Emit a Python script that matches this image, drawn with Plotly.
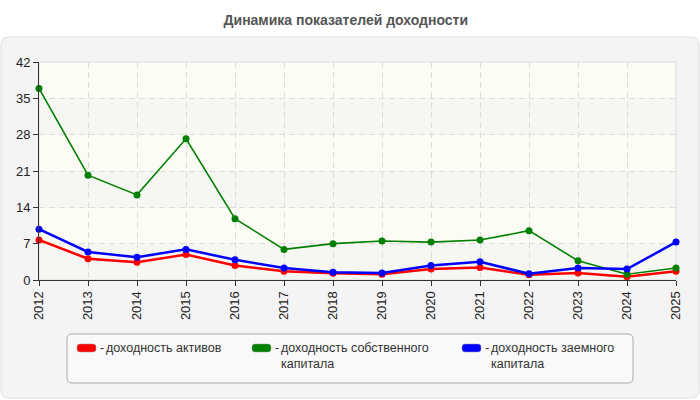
import plotly.graph_objects as go

years = list(range(2012, 2026))
series_names = ["доходность активов", "доходность собственного<br>капитала", "доходность заемного<br>капитала"]
colors = ["#ff0000", "#008000", "#0000ff"]
roa = [7.7, 4.1, 3.4, 4.9, 2.8, 1.7, 1.3, 1.1, 2.1, 2.4, 1.0, 1.35, 0.65, 1.7]
roe = [36.9, 20.2, 16.4, 27.2, 11.8, 5.9, 7.0, 7.5, 7.3, 7.7, 9.5, 3.7, 1.1, 2.3]
rod = [9.8, 5.4, 4.4, 5.9, 3.9, 2.3, 1.5, 1.35, 2.8, 3.5, 1.2, 2.3, 2.1, 7.3]
y_ticks = [0, 7, 14, 21, 28, 35, 42]

W, H = 700, 400
L, R, T, B = 39, 24, 62, 120
PW, PH = W - L - R, H - T - B
FONT = "Arial, Liberation Sans, sans-serif"

def px(x):
    return (x - L) / PW

def py(y):
    return (H - B - y) / PH

def rounded(x0, y0, x1, y1, r):
    rx, ry = r / PW, r / PH
    a, b, c, d = px(x0), py(y1), px(x1), py(y0)  # left, bottom, right, top
    return (f"M {a+rx},{d} L {c-rx},{d} Q {c},{d} {c},{d-ry} L {c},{b+ry} "
            f"Q {c},{b} {c-rx},{b} L {a+rx},{b} Q {a},{b} {a},{b+ry} "
            f"L {a},{d-ry} Q {a},{d} {a+rx},{d} Z")

fig = go.Figure()
widths = [2.5, 1.6, 2.5]
for vals, col, w, nm in zip([roa, roe, rod], colors, widths, series_names):
    fig.add_trace(go.Scatter(x=years, y=vals, mode="lines+markers", name=nm.replace("<br>", " "),
                             line=dict(color=col, width=w), marker=dict(color=col, size=7),
                             cliponaxis=False, showlegend=False))

shapes = []
# outer panel
shapes.append(dict(type="path", xref="paper", yref="paper", layer="below",
                   path=rounded(1, 37, 699, 398, 8), fillcolor="#f4f4f4",
                   line=dict(color="#dedede", width=1)))
# plot background bands
for i in range(len(y_ticks) - 1):
    shapes.append(dict(type="rect", xref="paper", yref="y", layer="below",
                       x0=0, x1=1, y0=y_ticks[i], y1=y_ticks[i + 1],
                       fillcolor="#f6f6f2" if i % 2 == 0 else "#fcfcf5", line=dict(width=0)))
# plot border (top/right light)
shapes.append(dict(type="rect", xref="paper", yref="paper", layer="below",
                   x0=0, x1=1, y0=0, y1=1, line=dict(color="#dcdcdc", width=1)))
# legend box
shapes.append(dict(type="path", xref="paper", yref="paper", layer="above",
                   path=rounded(67, 334, 633, 383, 5), fillcolor="#f9f9f9",
                   line=dict(color="#aaaaaa", width=1)))
annotations = []
sw_x = [77, 252, 462]
lfont = dict(family=FONT, size=12.5, color="#333333")
for sx, col, nm in zip(sw_x, colors, series_names):
    shapes.append(dict(type="path", xref="paper", yref="paper", layer="above",
                       path=rounded(sx, 344, sx + 19, 352, 3), fillcolor=col,
                       line=dict(color="#999999", width=0.5)))
    annotations.append(dict(x=px(sx + 22), y=py(348), xref="paper", yref="paper",
                            xanchor="left", yanchor="middle", showarrow=False, borderpad=0,
                            text="-", font=lfont))
    annotations.append(dict(x=px(sx + 28), y=py(340), xref="paper", yref="paper",
                            xanchor="left", yanchor="top", align="left", showarrow=False,
                            borderpad=0, text=nm, font=lfont))

fig.update_layout(
    width=W, height=H, autosize=False,
    margin=dict(l=L, r=R, t=T, b=B, pad=0),
    paper_bgcolor="#ffffff", plot_bgcolor="rgba(0,0,0,0)",
    title=dict(text="<b>Динамика показателей доходности</b>", x=0.494, xref="container",
               y=1 - 20 / H, yref="container", xanchor="center", yanchor="middle",
               font=dict(family=FONT, size=14, color="#555555")),
    shapes=shapes, annotations=annotations, showlegend=False,
    xaxis=dict(range=[2012, 2025], tickmode="array", tickvals=years, ticktext=[str(y) for y in years],
               tickangle=-90, ticks="outside", ticklen=5, tickcolor="#333333",
               showline=True, linecolor="#333333", linewidth=1,
               showgrid=True, gridcolor="#dcdcdc", griddash="6px,4px", gridwidth=1,
               zeroline=False, tickfont=dict(family=FONT, size=13, color="#222222")),
    yaxis=dict(range=[0, 42], tickmode="array", tickvals=y_ticks,
               ticks="outside", ticklen=5, tickcolor="#333333",
               showline=True, linecolor="#333333", linewidth=1,
               showgrid=True, gridcolor="#dcdcdc", griddash="6px,4px", gridwidth=1,
               zeroline=False, tickfont=dict(family=FONT, size=13, color="#222222")),
)

fig.write_html("out.html")
